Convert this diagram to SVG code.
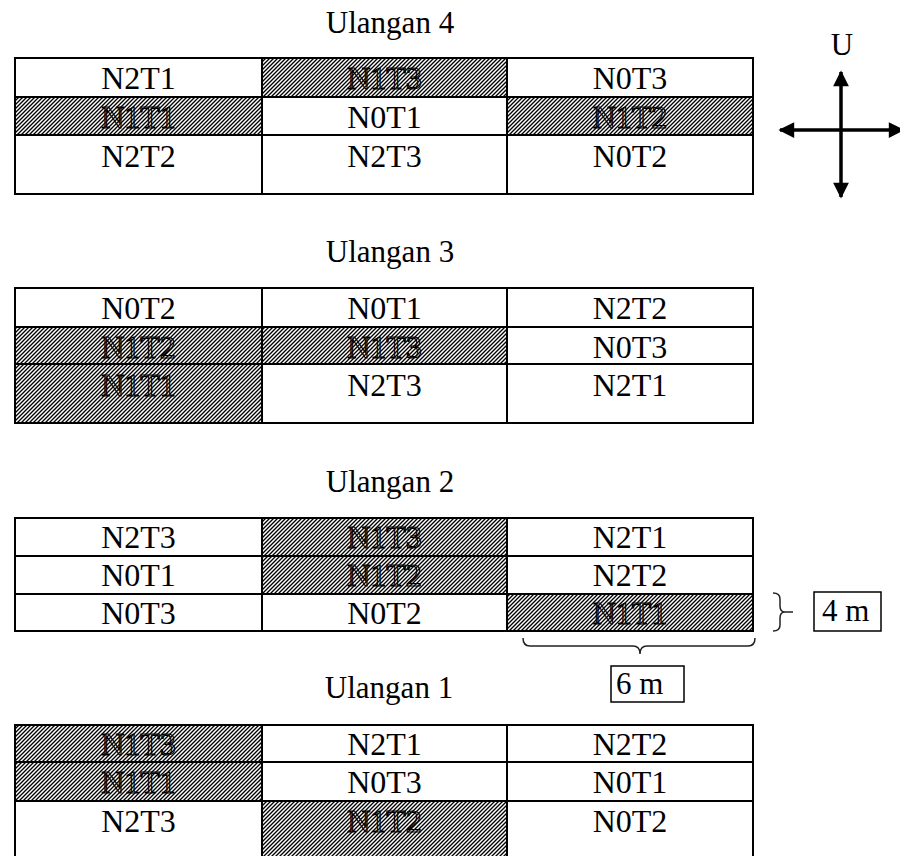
<svg xmlns="http://www.w3.org/2000/svg" width="900" height="856" viewBox="0 0 900 856">
<defs>
<pattern id="hatch" patternUnits="userSpaceOnUse" width="4" height="4">
<rect width="4" height="4" fill="#fff"/>
<path d="M-1,1 L1,-1 M0,4 L4,0 M3,5 L5,3" stroke="#000" stroke-width="1.35"/>
</pattern>
<marker id="ah" viewBox="0 0 10 10" refX="9" refY="5" markerWidth="6" markerHeight="4.5" markerUnits="strokeWidth" orient="auto-start-reverse">
<path d="M0,0 L10,5 L0,10 z" fill="#000"/>
</marker>
</defs>
<style>
.cell{fill:#fff;stroke:#000;stroke-width:2}
.h .cell{fill:url(#hatch)}
.t{font-family:"Liberation Serif","Times New Roman",serif;font-size:32px;text-anchor:middle;fill:#000}
.h .t{fill:url(#hatch);stroke:#000;stroke-width:1.2}
.title{font-family:"Liberation Serif","Times New Roman",serif;font-size:31px;text-anchor:middle;fill:#000}
.lbl{font-family:"Liberation Serif","Times New Roman",serif;font-size:31px;fill:#000}
.box{fill:#fff;stroke:#000;stroke-width:1.5}
.brace{fill:none;stroke:#222;stroke-width:1.5}
.arrow{stroke:#000;stroke-width:3.5;fill:none}
</style>
<rect width="900" height="856" fill="#fff"/>

<text class="title" x="390" y="33">Ulangan 4</text>
<g id="ulangan4">
<g id="u4-r1c1"><rect class="cell" x="15" y="58" width="247" height="39"/><text class="t" x="138.5" y="89">N2T1</text></g>
<g id="u4-r1c2" class="h"><rect class="cell" x="262" y="58" width="245" height="39"/><text class="t" x="384.5" y="89">N1T3</text></g>
<g id="u4-r1c3"><rect class="cell" x="507" y="58" width="246" height="39"/><text class="t" x="630" y="89">N0T3</text></g>
<g id="u4-r2c1" class="h"><rect class="cell" x="15" y="97" width="247" height="38"/><text class="t" x="138.5" y="128">N1T1</text></g>
<g id="u4-r2c2"><rect class="cell" x="262" y="97" width="245" height="38"/><text class="t" x="384.5" y="128">N0T1</text></g>
<g id="u4-r2c3" class="h"><rect class="cell" x="507" y="97" width="246" height="38"/><text class="t" x="630" y="128">N1T2</text></g>
<g id="u4-r3c1"><rect class="cell" x="15" y="135" width="247" height="59"/><text class="t" x="138.5" y="167">N2T2</text></g>
<g id="u4-r3c2"><rect class="cell" x="262" y="135" width="245" height="59"/><text class="t" x="384.5" y="167">N2T3</text></g>
<g id="u4-r3c3"><rect class="cell" x="507" y="135" width="246" height="59"/><text class="t" x="630" y="167">N0T2</text></g>
</g>

<text class="title" x="390" y="262">Ulangan 3</text>
<g id="ulangan3">
<g id="u3-r1c1"><rect class="cell" x="15" y="288" width="247" height="39"/><text class="t" x="138.5" y="319">N0T2</text></g>
<g id="u3-r1c2"><rect class="cell" x="262" y="288" width="245" height="39"/><text class="t" x="384.5" y="319">N0T1</text></g>
<g id="u3-r1c3"><rect class="cell" x="507" y="288" width="246" height="39"/><text class="t" x="630" y="319">N2T2</text></g>
<g id="u3-r2c1" class="h"><rect class="cell" x="15" y="327" width="247" height="37"/><text class="t" x="138.5" y="358">N1T2</text></g>
<g id="u3-r2c2" class="h"><rect class="cell" x="262" y="327" width="245" height="37"/><text class="t" x="384.5" y="358">N1T3</text></g>
<g id="u3-r2c3"><rect class="cell" x="507" y="327" width="246" height="37"/><text class="t" x="630" y="358">N0T3</text></g>
<g id="u3-r3c1" class="h"><rect class="cell" x="15" y="364" width="247" height="59"/><text class="t" x="138.5" y="396">N1T1</text></g>
<g id="u3-r3c2"><rect class="cell" x="262" y="364" width="245" height="59"/><text class="t" x="384.5" y="396">N2T3</text></g>
<g id="u3-r3c3"><rect class="cell" x="507" y="364" width="246" height="59"/><text class="t" x="630" y="396">N2T1</text></g>
</g>

<text class="title" x="390" y="492">Ulangan 2</text>
<g id="ulangan2">
<g id="u2-r1c1"><rect class="cell" x="15" y="518" width="247" height="38"/><text class="t" x="138.5" y="548">N2T3</text></g>
<g id="u2-r1c2" class="h"><rect class="cell" x="262" y="518" width="245" height="38"/><text class="t" x="384.5" y="548">N1T3</text></g>
<g id="u2-r1c3"><rect class="cell" x="507" y="518" width="246" height="38"/><text class="t" x="630" y="548">N2T1</text></g>
<g id="u2-r2c1"><rect class="cell" x="15" y="556" width="247" height="38"/><text class="t" x="138.5" y="586">N0T1</text></g>
<g id="u2-r2c2" class="h"><rect class="cell" x="262" y="556" width="245" height="38"/><text class="t" x="384.5" y="586">N1T2</text></g>
<g id="u2-r2c3"><rect class="cell" x="507" y="556" width="246" height="38"/><text class="t" x="630" y="586">N2T2</text></g>
<g id="u2-r3c1"><rect class="cell" x="15" y="594" width="247" height="37"/><text class="t" x="138.5" y="624">N0T3</text></g>
<g id="u2-r3c2"><rect class="cell" x="262" y="594" width="245" height="37"/><text class="t" x="384.5" y="624">N0T2</text></g>
<g id="u2-r3c3" class="h"><rect class="cell" x="507" y="594" width="246" height="37"/><text class="t" x="630" y="624">N1T1</text></g>
</g>

<text class="title" x="389" y="698">Ulangan 1</text>
<g id="ulangan1">
<g id="u1-r1c1" class="h"><rect class="cell" x="15" y="725" width="247" height="37"/><text class="t" x="138.5" y="755">N1T3</text></g>
<g id="u1-r1c2"><rect class="cell" x="262" y="725" width="245" height="37"/><text class="t" x="384.5" y="755">N2T1</text></g>
<g id="u1-r1c3"><rect class="cell" x="507" y="725" width="246" height="37"/><text class="t" x="630" y="755">N2T2</text></g>
<g id="u1-r2c1" class="h"><rect class="cell" x="15" y="762" width="247" height="39"/><text class="t" x="138.5" y="793">N1T1</text></g>
<g id="u1-r2c2"><rect class="cell" x="262" y="762" width="245" height="39"/><text class="t" x="384.5" y="793">N0T3</text></g>
<g id="u1-r2c3"><rect class="cell" x="507" y="762" width="246" height="39"/><text class="t" x="630" y="793">N0T1</text></g>
<g id="u1-r3c1"><rect class="cell" x="15" y="801" width="247" height="60"/><text class="t" x="138.5" y="832">N2T3</text></g>
<g id="u1-r3c2" class="h"><rect class="cell" x="262" y="801" width="245" height="60"/><text class="t" x="384.5" y="832">N1T2</text></g>
<g id="u1-r3c3"><rect class="cell" x="507" y="801" width="246" height="60"/><text class="t" x="630" y="832">N0T2</text></g>
</g>

<g id="compass">
<text class="title" x="842" y="55">U</text>
</g>
<g id="connectors">
<line class="arrow" x1="841" y1="197" x2="841" y2="72" marker-end="url(#ah)" marker-start="url(#ah)"/>
<line class="arrow" x1="780" y1="130" x2="903" y2="130" marker-end="url(#ah)" marker-start="url(#ah)"/>
<path class="brace" d="M773,593 Q780,593 780,599 L780,606 Q780,612 785,612 L793,612 M785,612 Q780,612 780,618 L780,625 Q780,631 773,631"/>
<path class="brace" d="M523,638 Q523,646 530,646 L633,646 Q640,646 640,654 Q640,646 647,646 L748,646 Q755,646 755,638"/>
</g>
<g id="dim-4m"><rect class="box" x="814" y="592" width="67" height="39"/><text class="lbl" x="822" y="621">4 m</text></g>
<g id="dim-6m"><rect class="box" x="611" y="666" width="73" height="36"/><text class="lbl" x="616" y="694">6 m</text></g>
</svg>
